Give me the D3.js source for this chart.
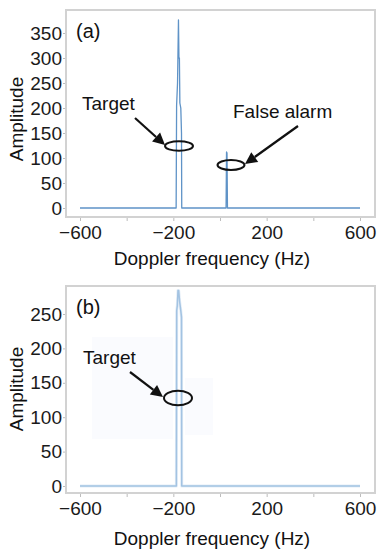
<!DOCTYPE html>
<html>
<head>
<meta charset="utf-8">
<script src="https://cdn.jsdelivr.net/npm/d3@7"></script>
<style>
  html, body { margin: 0; padding: 0; background: #fff; }
  svg { display: block; font-family: "Liberation Sans", Arial, sans-serif; }
</style>
</head>
<body>
<svg id="chart" width="378" height="549"></svg>
<script>
// Doppler spectrum samples (Hz, amplitude)
const freqA = [-600, -188, -186, -182, -178, -176, -174, -172, -168, -165, -164, 26, 28, 30, 32, 600];
const ampA  = [0, 0, 205, 250, 376, 300, 300, 210, 200, 150, 0, 0, 112, 110, 0, 0];

const freqB = [-600, -187, -185.5, -183, -180, -178.5, -177, -173, -168, -165, -164, 600];
const ampB  = [0, 0, 255, 262, 284, 276, 284, 268, 255, 245, 0, 0];

const xTicks = [-600, -400, -200, 0, 200, 400, 600];
const xTickLabels = ["−600", "", "−200", "", "200", "", "600"];
const yTicksA = [0, 50, 100, 150, 200, 250, 300, 350];
const yTicksB = [0, 50, 100, 150, 200, 250];

const svg = d3.select("#chart");
const FONT = 19;

function panel(cfg) {
  const g = svg.append("g");
  const x = d3.scaleLinear().domain([-600, 600]).range([80, 360]);
  const y = d3.scaleLinear().domain([0, cfg.yMax]).range([cfg.y0, cfg.yTop]);

  // faint backdrop boxes behind annotations
  (cfg.boxes || []).forEach(b => {
    g.append("rect").attr("x", b[0]).attr("y", b[1]).attr("width", b[2]).attr("height", b[3])
      .attr("fill", "#fafbfe");
  });

  // plot frame
  g.append("rect")
    .attr("x", cfg.frame[0]).attr("y", cfg.frame[1])
    .attr("width", cfg.frame[2] - cfg.frame[0]).attr("height", cfg.frame[3] - cfg.frame[1])
    .attr("fill", "none").attr("stroke", "#d2d2d2").attr("stroke-width", 2);

  // x axis ticks on bottom frame edge
  const xa = g.append("g").attr("transform", `translate(0,${cfg.frame[3] + 1})`)
    .call(d3.axisBottom(x).tickValues(xTicks).tickSize(3).tickPadding(5)
      .tickFormat((d, i) => xTickLabels[i]));
  xa.select(".domain").remove();
  xa.selectAll(".tick line").attr("stroke", "#bdbdbd");
  xa.selectAll(".tick text").attr("font-size", FONT).attr("fill", "#1a1a1a")
    .attr("font-family", "Liberation Sans, Arial, sans-serif");

  // y axis on left frame edge
  const ya = g.append("g").attr("transform", `translate(${cfg.frame[0] - 1},0)`)
    .call(d3.axisLeft(y).tickValues(cfg.yTicks).tickSize(2).tickPadding(1));
  ya.select(".domain").remove();
  ya.selectAll(".tick line").attr("stroke", "#bdbdbd");
  ya.selectAll(".tick text").attr("font-size", FONT).attr("fill", "#1a1a1a")
    .attr("font-family", "Liberation Sans, Arial, sans-serif");

  // spectrum trace
  const pts = cfg.freq.map((f, i) => [f, cfg.amp[i]]);
  const line = d3.line().x(d => x(d[0])).y(d => y(d[1]));
  if (cfg.halo) {
    g.append("path").attr("d", line(pts)).attr("fill", "none")
      .attr("stroke", cfg.halo).attr("stroke-width", 3).attr("stroke-linejoin", "round");
  }
  g.append("path").attr("d", line(pts)).attr("fill", "none")
    .attr("stroke", cfg.color).attr("stroke-width", cfg.width).attr("stroke-linejoin", "round");

  // panel tag
  g.append("text").attr("x", 76).attr("y", cfg.tagY).attr("font-size", 20)
    .attr("fill", "#111").text(cfg.tag);

  // axis titles
  g.append("text").attr("x", 212).attr("y", cfg.titleY).attr("text-anchor", "middle")
    .attr("font-size", FONT).attr("fill", "#111").text("Doppler frequency (Hz)");
  g.append("text").attr("transform", `translate(23,${cfg.ampY}) rotate(-90)`)
    .attr("text-anchor", "middle").attr("font-size", FONT).attr("fill", "#111").text("Amplitude");

  // annotations: label, arrow, ellipse
  cfg.notes.forEach(n => {
    g.append("text").attr("x", n.tx).attr("y", n.ty).attr("font-size", FONT)
      .attr("fill", "#111").text(n.text);
    const [x1, y1, x2, y2] = n.arrow;
    const ang = Math.atan2(y2 - y1, x2 - x1);
    const L = 12, W = 6;
    const bx = x2 - L * Math.cos(ang), by = y2 - L * Math.sin(ang);
    g.append("line").attr("x1", x1).attr("y1", y1).attr("x2", bx).attr("y2", by)
      .attr("stroke", "#111").attr("stroke-width", 2.2);
    const px = -Math.sin(ang), py = Math.cos(ang);
    g.append("path")
      .attr("d", `M${x2},${y2}L${bx + W * px},${by + W * py}L${bx - W * px},${by - W * py}Z`)
      .attr("fill", "#111");
    g.append("ellipse").attr("cx", n.ex).attr("cy", n.ey).attr("rx", n.rx).attr("ry", n.ry)
      .attr("fill", "none").attr("stroke", "#111").attr("stroke-width", 2);
  });
}

panel({
  frame: [66, 10, 375, 217],
  yMax: 350, y0: 208, yTop: 33, yTicks: yTicksA,
  freq: freqA, amp: ampA, color: "#5f93c7", width: 1.3,
  tag: "(a)", tagY: 38, titleY: 265, ampY: 119,
  notes: [
    { text: "Target", tx: 82, ty: 110, arrow: [135, 118, 165, 145], ex: 179, ey: 146, rx: 14, ry: 4.7 },
    { text: "False alarm", tx: 233, ty: 118, arrow: [298, 126, 245, 164], ex: 231, ey: 165, rx: 13.5, ry: 5 }
  ]
});

panel({
  frame: [66, 286, 375, 493],
  yMax: 250, y0: 486, yTop: 314, yTicks: yTicksB,
  freq: freqB, amp: ampB, color: "#a3c3e2", halo: "#e3edf7", width: 1.5,
  tag: "(b)", tagY: 314, titleY: 545, ampY: 389,
  boxes: [[92, 337, 81, 102], [185, 378, 28, 57]],
  notes: [
    { text: "Target", tx: 83, ty: 364, arrow: [130, 372, 163, 397], ex: 178, ey: 398, rx: 14, ry: 7.2 }
  ]
});
</script>
</body>
</html>
